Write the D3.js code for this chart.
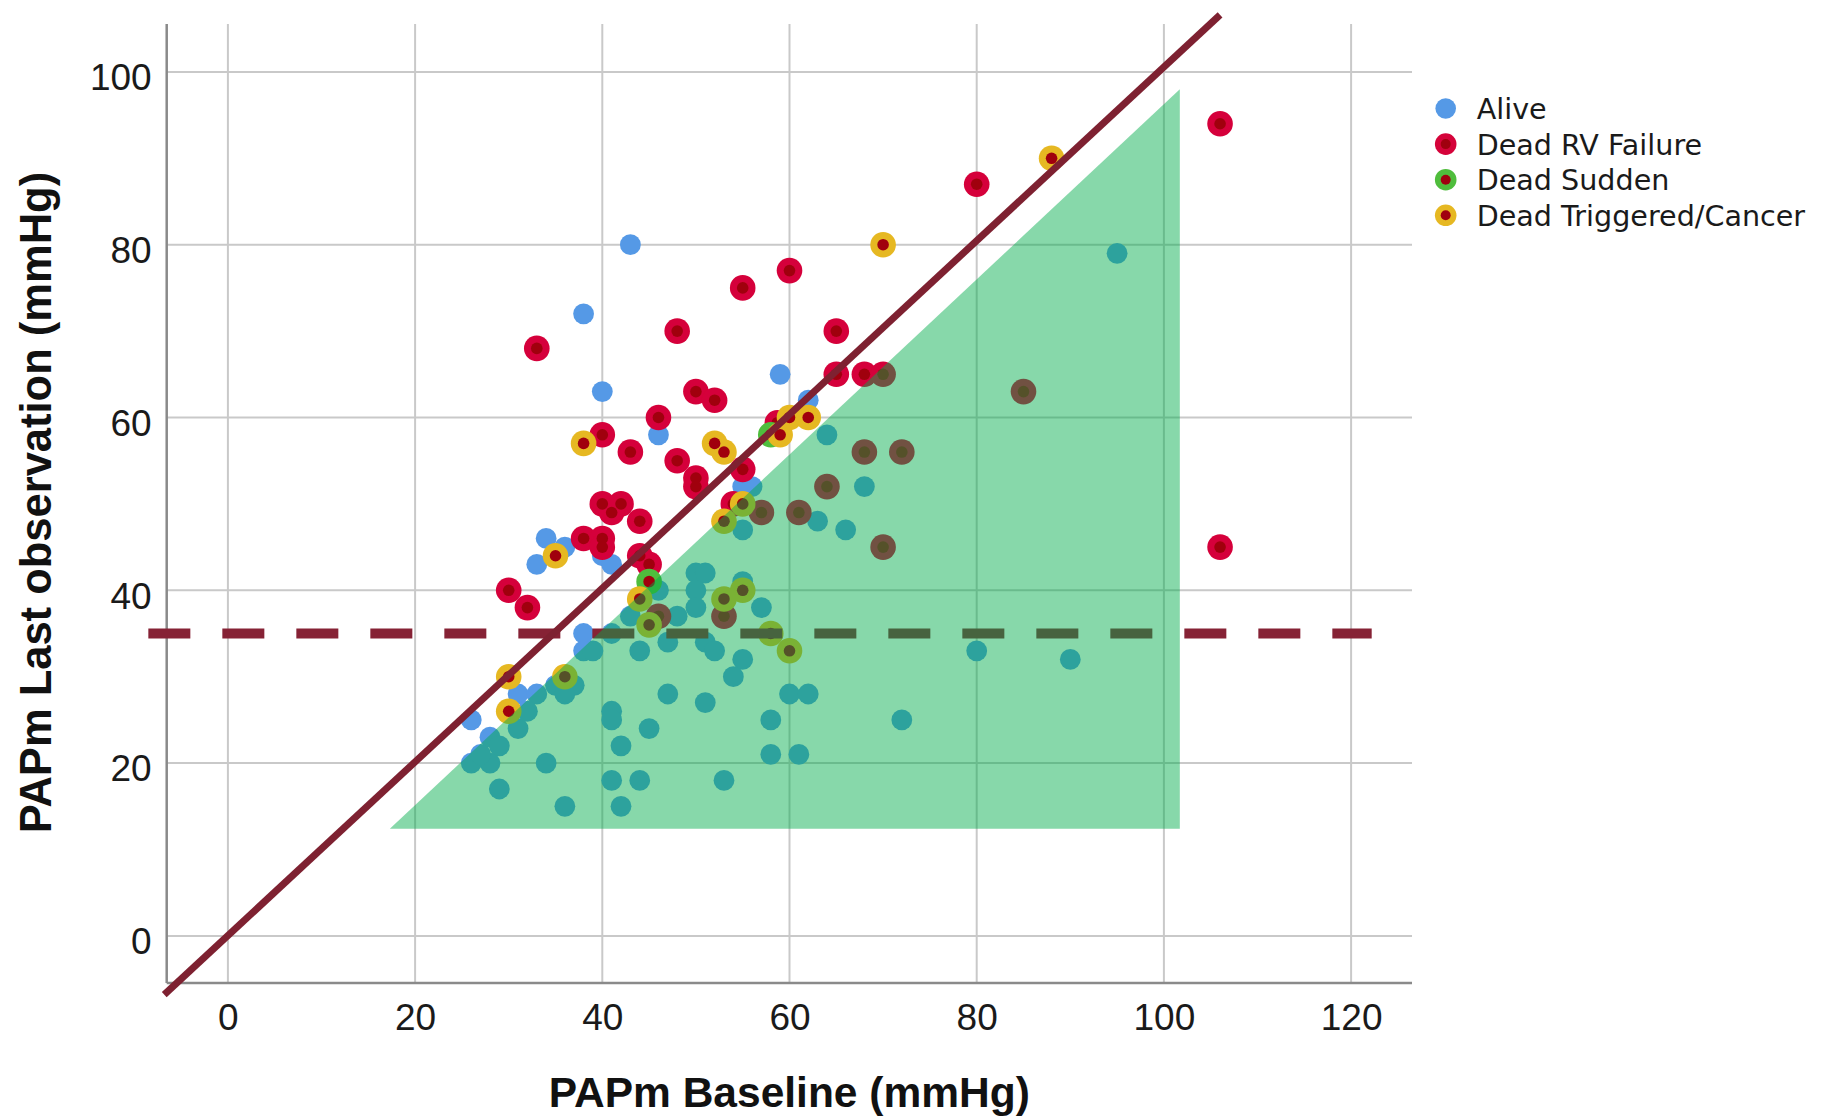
<!DOCTYPE html>
<html>
<head>
<meta charset="utf-8">
<script src="https://cdn.jsdelivr.net/npm/d3@7"></script>
<style>
body { margin: 0; background: #fff; }
</style>
</head>
<body>
<svg id="chart" width="1823" height="1116"></svg>
<script>
// tick values
var xTicks = [0, 20, 40, 60, 80, 100, 120];
var yTicks = [0, 20, 40, 60, 80, 100];

var categories = ["Alive", "Dead RV Failure", "Dead Sudden", "Dead Triggered/Cancer"];

// [PAPm baseline, PAPm last observation]
var alive = [
	[43,80],[38,72],[40,63],[59,65],[62,62],[46,58],[95,79],
	[34,46],[36,45],[33,43],[40,44],[41,43],[38,35],[38,33],[39,33],[41,35],[43,37],[44,33],
	[46,40],[48,37],[50,42],[51,42],[50,40],[50,38],[55,41],[57,38],[47,34],[51,34],[52,33],[55,32],[54,30],
	[47,28],[51,27],[60,28],[62,28],[45,24],[58,25],[72,25],[58,21],[61,21],[44,18],[53,18],[41,18],[42,15],[36,15],[42,22],[41,26],[41,25],
	[55,52],[56,52],[55,47],[64,58],[68,52],[63,48],[66,47],
	[80,33],[90,32],
	[26,25],[28,23],[31,28],[33,28],[26,20],[28,20],[27,21],[29,22],[29,17],[34,20],[31,24],[32,26],[35,29],[37,29],[36,28]
];
var deadRV = [
	[33,68],[48,70],[65,70],[55,75],[60,77],[80,87],[106,94],[106,45],
	[50,63],[52,62],[65,65],[68,65],[70,65],[46,60],[40,58],[43,56],[48,55],[50,53],[50,52],[55,54],[54,50],[58.7,59.4],
	[40,50],[42,50],[41,49],[44,48],[38,46],[40,46],[40,45],[44,44],[45,43],[30,40],[32,38],
	[57,49],[61,49],[68,56],[72,56],[64,52],[70,45],[85,63],[46,37],[53,37]
];
var deadSudden = [[45,41],[58,58]];
var deadTriggered = [
	[38,57],[35,44],[30,30],[30,26],[36,30],[44,39],[45,36],[52,57],[53,56],[60,60],[62,60],[59,58],
	[53,48],[55,50],[53,39],[55,40],[58,35],[60,33],[70,80],[88,90]
];

// reference lines and shaded zone
var cutoff = 35;
var cutoffRange = [-8.5, 122.2];
var identityLine = [[-6.8,-6.8],[106,106.6]];
var zone = [[17.3,12.4],[101.7,12.4],[101.7,98]];

var styles = {
	"Alive": {ring: "#5599e6", core: null},
	"Dead RV Failure": {ring: "#d5033a", core: "#a0000f"},
	"Dead Sudden": {ring: "#4fbd3c", core: "#a0000f"},
	"Dead Triggered/Cancer": {ring: "#e6b822", core: "#a0000f"}
};
var seriesData = {
	"Alive": alive,
	"Dead RV Failure": deadRV,
	"Dead Sudden": deadSudden,
	"Dead Triggered/Cancer": deadTriggered
};

var svg = d3.select("#chart");
var plot = {left: 166.7, right: 1412, top: 24, bottom: 983};

var x = d3.scaleLinear().domain([0, 120]).range([227.9, 1351.1]);
var y = d3.scaleLinear().domain([0, 100]).range([935.9, 71.9]);

svg.append("rect").attr("width", 1823).attr("height", 1116).attr("fill", "#fff");

// grid
var grid = svg.append("g");
grid.selectAll(".vg").data(xTicks).enter().append("line")
	.attr("x1", function(d){ return x(d); }).attr("x2", function(d){ return x(d); })
	.attr("y1", plot.top).attr("y2", plot.bottom)
	.attr("stroke", "#c9c9c9").attr("stroke-width", 2);
grid.selectAll(".hg").data(yTicks).enter().append("line")
	.attr("x1", plot.left).attr("x2", plot.right)
	.attr("y1", function(d){ return y(d); }).attr("y2", function(d){ return y(d); })
	.attr("stroke", "#c9c9c9").attr("stroke-width", 2);

// axes lines
svg.append("line").attr("x1", plot.left).attr("x2", plot.left).attr("y1", plot.top).attr("y2", plot.bottom)
	.attr("stroke", "#8a8a8a").attr("stroke-width", 2.5);
svg.append("line").attr("x1", plot.left).attr("x2", plot.right).attr("y1", plot.bottom).attr("y2", plot.bottom)
	.attr("stroke", "#8a8a8a").attr("stroke-width", 2.5);

// tick labels
var xAxis = svg.append("g").attr("transform", "translate(0," + plot.bottom + ")")
	.call(d3.axisBottom(x).tickValues(xTicks).tickSize(0).tickPadding(21));
var yAxis = svg.append("g").attr("transform", "translate(" + plot.left + ",0)")
	.call(d3.axisLeft(y).tickValues(yTicks).tickSize(0).tickPadding(15));
[xAxis, yAxis].forEach(function(a) {
	a.select(".domain").remove();
	a.selectAll("text").attr("font-family", "'Liberation Sans', Arial, sans-serif")
		.attr("font-size", 37).attr("fill", "#1a1a1a");
});
yAxis.selectAll("text").attr("dy", "0.48em");

// points
var defs = svg.append("defs");
defs.append("filter").attr("id", "soft").append("feGaussianBlur").attr("stdDeviation", 0.7);

var pts = svg.append("g").attr("filter", "url(#soft)");
categories.forEach(function(cat) {
	var st = styles[cat];
	var g = pts.append("g");
	g.selectAll("circle.ring").data(seriesData[cat]).enter().append("circle")
		.attr("cx", function(d){ return x(d[0]); })
		.attr("cy", function(d){ return y(d[1]); })
		.attr("r", st.core ? 12.8 : 10.4)
		.attr("fill", st.ring);
	if (st.core) {
		g.selectAll("circle.core").data(seriesData[cat]).enter().append("circle")
			.attr("cx", function(d){ return x(d[0]); })
			.attr("cy", function(d){ return y(d[1]); })
			.attr("r", 5.8)
			.attr("fill", st.core);
	}
});

// cutoff dashed line
svg.append("line")
	.attr("x1", x(cutoffRange[0])).attr("x2", x(cutoffRange[1]))
	.attr("y1", y(cutoff)).attr("y2", y(cutoff))
	.attr("stroke", "#862235").attr("stroke-width", 10)
	.attr("stroke-dasharray", "42,32");

// shaded zone
svg.append("path")
	.attr("d", d3.line().x(function(d){ return x(d[0]); }).y(function(d){ return y(d[1]); })(zone) + "Z")
	.attr("fill", "rgb(0,172,74)").attr("fill-opacity", 0.47);

// identity line
svg.append("path")
	.attr("d", d3.line().x(function(d){ return x(d[0]); }).y(function(d){ return y(d[1]); })(identityLine))
	.attr("stroke", "#7e2131").attr("stroke-width", 7).attr("fill", "none");

// axis titles
svg.append("text").attr("x", (plot.left + plot.right) / 2).attr("y", 1107)
	.attr("text-anchor", "middle")
	.attr("font-family", "'Liberation Sans', Arial, sans-serif").attr("font-weight", "bold")
	.attr("font-size", 42.5).attr("fill", "#111")
	.text("PAPm Baseline (mmHg)");
svg.append("text").attr("transform", "translate(51,502.6) rotate(-90)")
	.attr("text-anchor", "middle")
	.attr("font-family", "'Liberation Sans', Arial, sans-serif").attr("font-weight", "bold")
	.attr("font-size", 43.5).attr("fill", "#111")
	.text("PAPm Last observation (mmHg)");

// legend
var legend = svg.append("g").attr("transform", "translate(1445.7,108.5)");
categories.forEach(function(cat, i) {
	var st = styles[cat];
	var row = legend.append("g").attr("transform", "translate(0," + (i * 35.6) + ")");
	row.append("circle").attr("r", st.core ? 10.8 : 10.3).attr("fill", st.ring);
	if (st.core) row.append("circle").attr("r", 5).attr("fill", st.core);
	row.append("text").attr("x", 31).attr("y", 10.5)
		.attr("font-family", "'DejaVu Sans', sans-serif").attr("font-size", 28.6)
		.attr("fill", "#1a1a1a").text(cat);
});
</script>
</body>
</html>
